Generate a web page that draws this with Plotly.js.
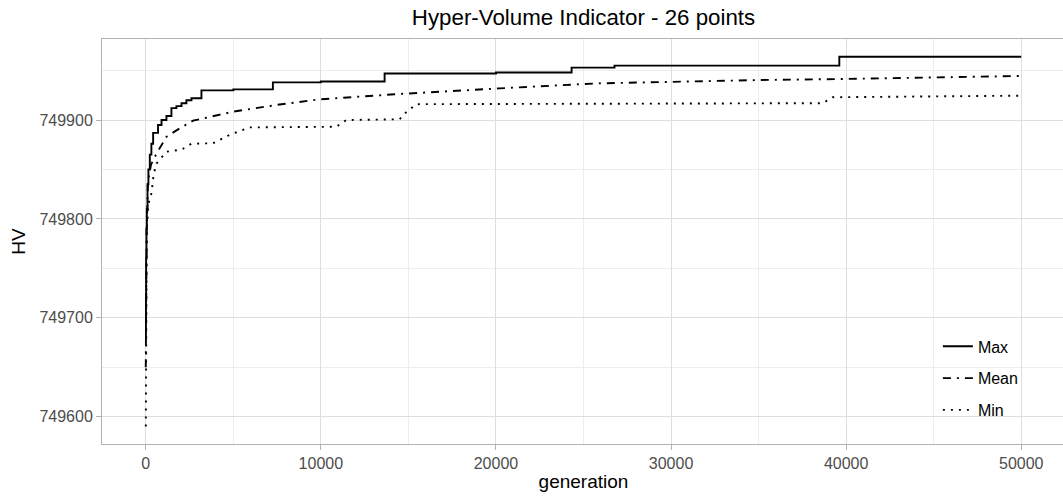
<!DOCTYPE html>
<html>
<head>
<meta charset="utf-8">
<script src="https://cdn.plot.ly/plotly-3.0.1.min.js"></script>
<style>
  html, body { margin: 0; padding: 0; overflow: hidden; background: #fff; }
  #chart { width: 1080px; height: 497px; }
</style>
</head>
<body>
<div id="chart"></div>
<script>
// ---- data ----
const titleText = "Hyper-Volume Indicator - 26 points";
const xTitle = "generation";
const yTitle = "HV";
const seriesNames = ["Max", "Mean", "Min"];

const maxGen = [0, 10, 20, 40, 60, 100, 150, 230, 320, 420, 700, 900, 1180, 1465, 1750, 2040, 2320, 2610, 3180, 5000, 7260, 10000, 13640, 20000, 24320, 26770, 39610, 50000];
const maxHV  = [749680, 749720, 749760, 749790, 749810, 749835, 749850, 749865, 749876, 749887, 749895, 749900, 749904, 749912, 749914, 749917, 749920, 749922, 749930, 749931, 749938, 749939, 749947, 749948, 749953, 749955, 749964, 749964];

const meanGen = [0, 20, 50, 131, 300, 611, 1180, 1941, 2700, 4985, 7458, 9932, 14212, 20205, 25725, 35046, 39612, 50000];
const meanHV  = [749650, 749740, 749790, 749839, 749855, 749866, 749883, 749891.6, 749899.3, 749908.4, 749915.2, 749920.9, 749926, 749932, 749937, 749940.4, 749941.4, 749944.5];

const minGen = [0, 10, 30, 60, 150, 325, 450, 611, 1180, 2037, 2608, 3842, 4795, 5936, 10883, 11455, 14498, 14878, 15450, 38660, 39230, 50000];
const minHV  = [749590, 749680, 749740, 749790, 749815, 749826, 749845, 749856, 749868, 749870, 749876, 749876.5, 749885, 749892.5, 749893.2, 749900, 749900.7, 749908, 749916, 749917, 749923, 749924.6];

// ---- chart ----
const lineW = 1.9;
const traces = [
  { x: maxGen, y: maxHV, name: seriesNames[0], mode: "lines", legendgroup: "a",
    line: { color: "#000", width: lineW, shape: "hv" } },
  { x: meanGen, y: meanHV, name: seriesNames[1], mode: "lines", legendgroup: "b",
    line: { color: "#000", width: lineW, dash: "8px,6px,2px,6px" } },
  { x: minGen, y: minHV, name: seriesNames[2], mode: "lines", legendgroup: "c",
    line: { color: "#000", width: lineW, dash: "2px,6px" } }
];

const font = "Liberation Sans, Arial, sans-serif";
const layout = {
  width: 1080, height: 497,
  margin: { l: 102, r: 15, t: 39, b: 53 },
  paper_bgcolor: "#fff", plot_bgcolor: "#fff",
  font: { family: font, color: "#000" },
  title: { text: titleText, font: { size: 22.3, family: font, color: "#000" },
           x: 0.5, xref: "paper", xanchor: "center", y: 1 - 17 / 497, yref: "container", yanchor: "middle" },
  showlegend: true,
  legend: { x: 0.868, y: 0.283, xanchor: "left", yanchor: "top", bgcolor: "rgba(255,255,255,0)",
            font: { size: 16, family: font, color: "#000" }, tracegroupgap: 8, traceorder: "grouped" },
  shapes: [
    { type: "rect", xref: "paper", yref: "paper", x0: 0.857, x1: 0.966, y0: 0.017, y1: 0.38,
      fillcolor: "#fff", line: { width: 0 }, layer: "between" }
  ],
  xaxis: {
    range: [-2500, 52500], dtick: 10000, tick0: 0, tickformat: "d",
    showgrid: true, gridcolor: "#DEDEDE", gridwidth: 1,
    minor: { dtick: 5000, tick0: 0, showgrid: true, gridcolor: "#EDEDED", gridwidth: 1, ticks: "" },
    zeroline: false, showline: true, linecolor: "#B3B3B3", linewidth: 1, mirror: true,
    ticks: "outside", ticklen: 5, tickcolor: "#B3B3B3", tickwidth: 1,
    tickfont: { size: 16, family: font, color: "#4D4D4D" },
    title: { text: xTitle, font: { size: 19, family: font, color: "#000" }, standoff: 3 }
  },
  yaxis: {
    range: [749572.4, 749981.9], dtick: 100, tick0: 749600, tickformat: "d",
    showgrid: true, gridcolor: "#DEDEDE", gridwidth: 1,
    minor: { dtick: 50, tick0: 749600, showgrid: true, gridcolor: "#EDEDED", gridwidth: 1, ticks: "" },
    zeroline: false, showline: true, linecolor: "#B3B3B3", linewidth: 1, mirror: true,
    ticks: "outside", ticklen: 5, tickcolor: "#B3B3B3", tickwidth: 1,
    tickfont: { size: 16, family: font, color: "#4D4D4D" },
    title: { text: yTitle, font: { size: 19, family: font, color: "#000" }, standoff: 8 }
  }
};

Plotly.newPlot("chart", traces, layout, { displayModeBar: false, staticPlot: true });
</script>
</body>
</html>
